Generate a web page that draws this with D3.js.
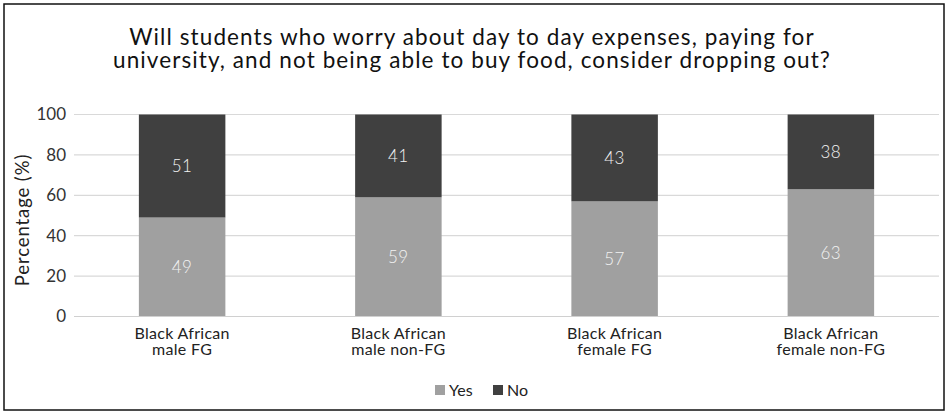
<!DOCTYPE html>
<html>
<head>
<meta charset="utf-8">
<script src="https://cdn.jsdelivr.net/npm/d3@7"></script>
<style>
  body { margin: 0; background: #fff; }
  text { font-family: "Lato", "Open Sans", sans-serif; }
</style>
</head>
<body>
<svg id="chart" width="948" height="412"></svg>
<script>
const categories = [
  ["Black African", "male FG"],
  ["Black African", "male non-FG"],
  ["Black African", "female FG"],
  ["Black African", "female non-FG"]
];
const yesValues = [49, 59, 57, 63];
const noValues = [51, 41, 43, 38];
const seriesNames = ["Yes", "No"];
const yTicks = [0, 20, 40, 60, 80, 100];
const titleLines = [
  "Will students who worry about day to day expenses, paying for",
  "university, and not being able to buy food, consider dropping out?"
];

const svg = d3.select("#chart");
const margin = { top: 114.5, right: 9, bottom: 95.5, left: 74 };
const width = 948 - margin.left - margin.right;
const height = 412 - margin.top - margin.bottom;
const color = d3.scaleOrdinal().domain(seriesNames).range(["#a0a0a0", "#404040"]);

// outer frame
svg.append("rect")
  .attr("x", 4).attr("y", 4)
  .attr("width", 940).attr("height", 406)
  .attr("fill", "none")
  .attr("stroke", "#111")
  .attr("stroke-width", 1.5);

svg.selectAll(".title")
  .data(titleLines)
  .enter()
  .append("text")
  .attr("class", "title")
  .attr("x", 472)
  .attr("y", (d, i) => 45 + i * 23)
  .attr("text-anchor", "middle")
  .style("font-size", "22.5px")
  .style("letter-spacing", "1.1px")
  .style("fill", "#111")
  .text(d => d);

const g = svg.append("g")
  .attr("transform", `translate(${margin.left}, ${margin.top})`);

const x = d3.scaleBand()
  .domain(categories.map((d, i) => i))
  .range([0, width])
  .paddingInner(0.6)
  .paddingOuter(0.3);

const y = d3.scaleLinear().domain([0, 100]).range([height, 0]);

// gridlines
g.selectAll(".grid")
  .data(yTicks)
  .enter()
  .append("line")
  .attr("x1", 0)
  .attr("x2", width)
  .attr("y1", d => y(d))
  .attr("y2", d => y(d))
  .attr("stroke", "#d9d9d9")
  .attr("stroke-width", 1.2);

const yAxis = g.append("g")
  .call(d3.axisLeft(y).tickValues(yTicks).tickSize(0).tickPadding(8));
yAxis.select(".domain").remove();
yAxis.selectAll("text")
  .style("font-size", "17px")
  .style("fill", "#333")
  .style("font-family", "Lato, 'Open Sans', sans-serif");

const stackData = categories.map((c, i) => ({ key: i, Yes: yesValues[i], No: noValues[i] }));
const stack = d3.stack().keys(seriesNames)(stackData);

const layers = g.selectAll(".layer")
  .data(stack)
  .enter()
  .append("g")
  .attr("class", "layer")
  .attr("fill", d => color(d.key));

layers.selectAll("rect")
  .data(d => d)
  .enter()
  .append("rect")
  .attr("x", d => x(d.data.key))
  .attr("width", x.bandwidth())
  .attr("y", d => y(Math.min(d[1], 100)))
  .attr("height", d => y(d[0]) - y(Math.min(d[1], 100)));

layers.selectAll("text")
  .data(d => d)
  .enter()
  .append("text")
  .attr("x", d => x(d.data.key) + x.bandwidth() / 2)
  .attr("y", d => y((d[0] + Math.min(d[1], 100)) / 2))
  .attr("dy", "0.35em")
  .attr("text-anchor", "middle")
  .style("font-size", "17px")
  .style("font-weight", 300)
  .style("letter-spacing", "0.5px")
  .style("fill", "#f2f2f2")
  .text(d => d[1] - d[0]);

// x axis baseline
g.append("line")
  .attr("x1", 0).attr("x2", width)
  .attr("y1", height).attr("y2", height)
  .attr("stroke", "#d0d0d0")
  .attr("stroke-width", 1.2);

const labelLines = [];
categories.forEach((c, i) => c.forEach((line, j) => labelLines.push({ line, i, j })));

g.selectAll(".xlabel")
  .data(labelLines)
  .enter()
  .append("text")
  .attr("class", "xlabel")
  .attr("text-anchor", "middle")
  .attr("x", d => x(d.i) + x.bandwidth() / 2)
  .attr("y", d => height + 22 + d.j * 16)
  .style("font-size", "16px")
  .style("letter-spacing", "0.3px")
  .style("fill", "#222")
  .text(d => d.line);

svg.append("text")
  .attr("transform", "translate(29, 220) rotate(-90)")
  .attr("text-anchor", "middle")
  .style("font-size", "18.5px")
  .style("letter-spacing", "0.9px")
  .style("fill", "#222")
  .text("Percentage (%)");

const legend = svg.append("g")
  .attr("transform", "translate(435, 385)");

const legendItem = legend.selectAll(".legend-item")
  .data(seriesNames)
  .enter()
  .append("g")
  .attr("class", "legend-item")
  .attr("transform", (d, i) => `translate(${i * 58}, 0)`);

legendItem.append("rect")
  .attr("width", 10)
  .attr("height", 10)
  .attr("fill", d => color(d));

legendItem.append("text")
  .attr("x", 14)
  .attr("y", 11)
  .style("font-size", "16px")
  .style("fill", "#222")
  .text(d => d);
</script>
</body>
</html>
